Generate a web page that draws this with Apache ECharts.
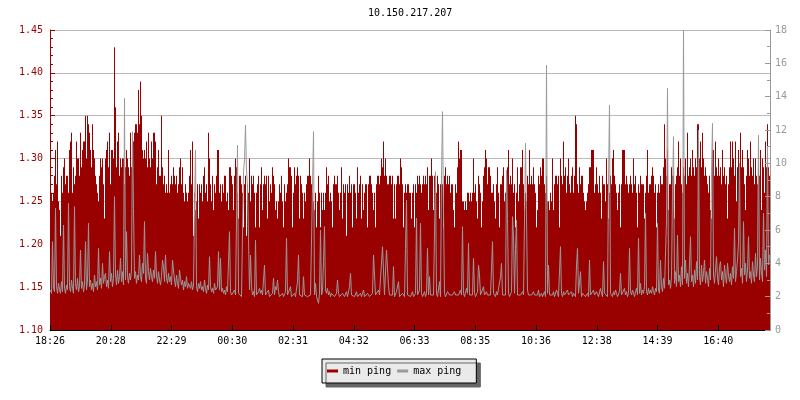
<!DOCTYPE html>
<html>
<head>
<meta charset="utf-8">
<script src="https://cdn.jsdelivr.net/npm/echarts@6/dist/echarts.min.js"></script>
<style>html,body{margin:0;padding:0;background:#fff}#c{width:800px;height:400px}</style>
</head>
<body>
<div id="c"></div>
<script>
// x tick labels (start 18:26, one labelled tick every 121.5 minutes)
const tickLabels = ['18:26','20:28','22:29','00:30','02:31','04:32','06:33','08:35','10:36','12:38','14:39','16:40'];
const labelStepMin = 121.5;
const minutesPerSample = 2;
const spanMin = 1440;

// min ping (ms, left axis) - one value per 2-minute sample
const minPing = [
1.25,1.26,1.25,1.26,1.28,1.31,1.27,1.32,1.25,1.24,1.21,1.28,1.26,1.29,1.30,1.27,1.28,1.28,1.26,1.31,
1.32,1.33,1.26,1.29,1.27,1.28,1.32,1.30,1.30,1.28,1.33,1.29,1.31,1.32,1.32,1.35,1.30,1.35,1.34,1.33,
1.31,1.29,1.34,1.31,1.30,1.28,1.27,1.26,1.25,1.28,1.30,1.29,1.30,1.27,1.23,1.30,1.31,1.32,1.29,1.33,
1.27,1.31,1.31,1.30,1.43,1.36,1.29,1.32,1.33,1.28,1.30,1.29,1.30,1.30,1.27,1.29,1.31,1.30,1.29,1.28,
1.33,1.29,1.31,1.32,1.33,1.34,1.34,1.33,1.38,1.34,1.39,1.35,1.31,1.30,1.31,1.30,1.32,1.29,1.33,1.30,
1.29,1.32,1.30,1.33,1.33,1.32,1.27,1.29,1.31,1.28,1.28,1.35,1.29,1.27,1.28,1.26,1.27,1.26,1.31,1.26,
1.27,1.28,1.27,1.29,1.28,1.27,1.28,1.26,1.27,1.29,1.30,1.27,1.29,1.26,1.25,1.27,1.26,1.25,1.26,1.28,
1.31,1.27,1.32,1.21,1.26,1.24,1.25,1.27,1.23,1.27,1.26,1.27,1.25,1.28,1.29,1.26,1.27,1.25,1.33,1.30,
1.27,1.25,1.28,1.24,1.27,1.26,1.28,1.31,1.31,1.26,1.27,1.25,1.27,1.26,1.28,1.28,1.25,1.26,1.24,1.29,
1.29,1.28,1.27,1.24,1.28,1.30,1.29,1.26,1.23,1.28,1.28,1.27,1.26,1.22,1.27,1.28,1.21,1.27,1.26,1.30,
1.25,1.28,1.27,1.28,1.26,1.22,1.26,1.27,1.28,1.22,1.27,1.29,1.24,1.27,1.28,1.27,1.28,1.23,1.28,1.25,
1.27,1.26,1.29,1.28,1.27,1.24,1.25,1.23,1.25,1.27,1.26,1.28,1.25,1.22,1.27,1.25,1.26,1.27,1.30,1.29,
1.29,1.28,1.22,1.26,1.29,1.27,1.28,1.29,1.28,1.23,1.28,1.27,1.26,1.23,1.26,1.25,1.27,1.28,1.28,1.30,
1.28,1.27,1.26,1.25,1.24,1.26,1.22,1.25,1.28,1.26,1.22,1.26,1.24,1.26,1.24,1.26,1.29,1.27,1.28,1.25,
1.26,1.25,1.22,1.27,1.28,1.27,1.27,1.28,1.26,1.24,1.26,1.29,1.23,1.27,1.26,1.27,1.21,1.27,1.26,1.28,
1.26,1.27,1.22,1.27,1.27,1.26,1.23,1.29,1.26,1.27,1.28,1.23,1.27,1.24,1.26,1.27,1.27,1.22,1.27,1.28,
1.28,1.27,1.26,1.24,1.26,1.22,1.27,1.28,1.28,1.27,1.28,1.30,1.29,1.32,1.28,1.30,1.28,1.27,1.27,1.28,
1.28,1.27,1.28,1.23,1.27,1.23,1.27,1.28,1.28,1.27,1.30,1.29,1.27,1.22,1.26,1.27,1.26,1.27,1.27,1.26,
1.26,1.23,1.26,1.27,1.22,1.27,1.26,1.28,1.27,1.28,1.27,1.26,1.27,1.28,1.27,1.28,1.27,1.29,1.24,1.28,
1.28,1.30,1.28,1.24,1.28,1.27,1.26,1.28,1.27,1.23,1.27,1.28,1.27,1.22,1.28,1.29,1.27,1.28,1.27,1.28,
1.26,1.27,1.27,1.24,1.22,1.27,1.26,1.29,1.32,1.30,1.31,1.31,1.25,1.25,1.24,1.25,1.24,1.26,1.26,1.25,
1.26,1.25,1.26,1.30,1.26,1.27,1.25,1.23,1.28,1.27,1.26,1.22,1.25,1.28,1.29,1.31,1.30,1.27,1.29,1.29,
1.28,1.26,1.26,1.27,1.25,1.23,1.27,1.29,1.26,1.22,1.27,1.27,1.28,1.29,1.25,1.26,1.27,1.29,1.31,1.27,
1.28,1.27,1.30,1.26,1.27,1.22,1.26,1.29,1.25,1.27,1.29,1.29,1.31,1.27,1.24,1.26,1.25,1.28,1.27,1.31,
1.27,1.28,1.27,1.29,1.27,1.26,1.22,1.24,1.28,1.27,1.29,1.28,1.30,1.30,1.27,1.26,1.28,1.25,1.25,1.24,
1.26,1.25,1.30,1.24,1.27,1.28,1.28,1.27,1.28,1.22,1.30,1.28,1.27,1.32,1.28,1.29,1.26,1.28,1.30,1.27,
1.26,1.28,1.29,1.26,1.28,1.35,1.34,1.27,1.26,1.29,1.27,1.28,1.28,1.26,1.25,1.24,1.25,1.26,1.27,1.29,
1.29,1.31,1.31,1.31,1.26,1.27,1.29,1.27,1.26,1.28,1.26,1.23,1.28,1.27,1.27,1.25,1.30,1.27,1.23,1.26,
1.28,1.27,1.30,1.31,1.28,1.27,1.26,1.24,1.26,1.27,1.22,1.27,1.31,1.31,1.31,1.27,1.28,1.27,1.26,1.27,
1.28,1.27,1.26,1.30,1.27,1.28,1.26,1.22,1.27,1.26,1.28,1.27,1.27,1.27,1.23,1.26,1.28,1.31,1.26,1.27,
1.27,1.28,1.29,1.28,1.26,1.27,1.22,1.26,1.27,1.26,1.28,1.27,1.27,1.29,1.34,1.30,1.28,1.31,1.24,1.27,
1.27,1.29,1.28,1.28,1.23,1.27,1.28,1.29,1.32,1.28,1.30,1.27,1.26,1.29,1.28,1.30,1.27,1.33,1.28,1.29,
1.30,1.28,1.31,1.29,1.28,1.30,1.29,1.34,1.34,1.30,1.32,1.29,1.33,1.30,1.28,1.29,1.28,1.27,1.26,1.28,
1.24,1.23,1.31,1.31,1.28,1.32,1.29,1.28,1.30,1.28,1.29,1.27,1.31,1.28,1.29,1.27,1.28,1.23,1.27,1.29,
1.32,1.29,1.32,1.30,1.28,1.32,1.25,1.29,1.31,1.28,1.33,1.29,1.31,1.29,1.27,1.24,1.28,1.31,1.30,1.28,
1.32,1.29,1.28,1.30,1.27,1.30,1.28,1.27,1.29,1.28,1.31,1.24,1.30,1.29,1.26,1.32,1.29,1.34,1.29,1.28
];

// max ping (ms, right axis) - one value per 2-minute sample
const maxPing = [
2.4,2.2,5.3,2.5,2.3,7.3,2.6,2.2,2.8,2.4,2.2,2.9,2.3,6.3,2.5,2.2,2.7,2.4,7.6,2.6,
2.3,3.0,2.5,2.2,7.4,2.8,2.4,3.1,2.3,2.6,4.8,2.5,2.9,2.3,2.7,5.3,2.4,3.0,6.4,2.6,
3.0,2.4,2.8,2.3,3.3,2.6,2.9,2.4,4.9,2.7,3.1,2.5,4.0,2.8,3.2,3.4,2.6,3.0,2.5,4.7,
2.9,3.4,2.6,3.1,8.0,3.3,2.7,3.6,2.8,3.2,4.3,2.9,3.5,2.7,13.9,3.0,5.9,3.2,2.8,3.4,
3.0,3.6,11.9,7.3,3.1,3.5,2.8,3.3,3.0,4.5,3.2,2.9,4.0,3.4,6.5,3.1,2.8,4.6,3.5,3.0,
3.7,3.2,2.9,3.6,3.1,4.7,3.3,2.8,3.5,3.0,2.7,3.2,4.2,3.8,2.9,4.5,3.1,2.8,3.4,2.9,
3.2,2.7,4.2,4.1,3.0,2.6,3.3,2.8,2.5,3.6,3.1,2.7,3.0,2.4,2.9,2.6,3.2,2.5,2.8,2.8,
2.5,2.9,2.4,2.7,7.2,10.8,2.6,2.3,2.8,2.5,2.9,2.4,2.6,2.3,3.0,2.5,2.2,2.7,2.4,4.4,
2.6,2.3,2.5,2.2,2.8,2.4,2.3,2.6,4.7,2.4,4.3,2.3,2.5,2.2,2.4,2.1,2.6,2.3,2.2,5.9,
2.3,2.1,2.2,2.0,2.4,2.1,2.0,11.1,2.2,2.1,2.3,2.0,2.1,9.5,10.2,12.3,9.6,8.6,5.5,2.4,
4.5,2.6,2.1,2.3,2.0,5.4,2.1,2.0,2.3,2.5,2.2,2.4,2.1,2.0,3.9,2.1,2.0,2.2,2.4,2.0,
2.1,2.0,2.2,3.1,2.1,2.6,2.4,3.0,2.3,2.0,2.1,2.0,2.2,2.0,2.1,2.3,5.5,2.1,2.0,2.1,
2.6,2.0,2.1,2.0,2.2,2.0,2.1,2.9,4.5,2.1,2.0,2.2,2.0,3.2,2.1,2.0,2.2,2.0,2.1,2.0,
2.1,2.0,2.2,11.9,2.1,2.8,2.0,2.1,1.6,2.2,6.0,2.1,2.3,4.1,6.2,2.4,2.2,2.5,2.1,2.3,
2.0,2.2,2.1,2.3,2.0,2.1,2.2,3.0,2.2,2.0,2.1,2.0,2.2,2.1,2.0,2.1,2.3,2.0,2.1,2.6,
3.4,2.1,2.0,2.2,2.0,2.1,2.3,2.0,2.1,2.0,2.2,2.0,2.1,2.4,2.0,2.1,2.0,2.2,2.1,2.0,
2.1,2.0,2.2,4.5,4.4,2.1,2.0,2.2,2.4,2.1,2.0,2.2,5.0,4.9,2.1,2.0,4.8,4.7,2.6,2.1,
2.0,2.2,2.1,3.8,2.0,2.1,2.3,2.2,2.9,2.0,2.1,2.0,2.2,2.1,2.0,4.9,7.8,2.1,2.0,2.2,
2.0,2.1,2.3,2.0,2.1,2.2,6.7,2.1,2.0,2.4,6.4,2.2,2.0,2.1,2.3,2.0,2.2,4.9,2.1,3.2,
2.1,2.0,2.2,2.1,2.0,9.5,2.2,2.0,2.1,2.9,2.0,9.2,13.1,7.0,2.2,2.0,2.1,2.3,2.4,2.1,
2.0,2.2,2.1,2.0,2.3,2.1,2.0,2.2,2.1,2.0,2.4,2.1,6.2,2.2,2.0,2.1,2.5,2.2,5.2,2.1,
2.0,2.2,2.1,4.3,2.2,2.0,2.1,2.3,3.9,3.3,2.1,2.0,2.2,2.6,2.1,2.0,2.3,2.1,2.0,2.2,
2.1,2.0,5.3,2.2,2.1,2.0,2.3,2.1,2.0,2.2,3.2,4.0,2.1,2.0,2.2,2.1,9.6,6.7,2.2,2.0,
2.1,2.3,6.8,5.6,2.2,4.9,6.6,2.1,2.0,2.2,2.1,2.0,2.3,2.1,2.0,11.2,6.6,2.4,2.1,2.0,
2.2,2.1,2.0,2.3,2.1,2.0,2.2,2.1,2.4,2.0,2.1,2.2,2.0,2.1,2.3,2.0,15.9,2.2,3.9,2.1,
2.0,2.2,2.1,2.3,2.0,2.1,2.4,2.2,2.0,2.1,5.0,2.2,2.0,2.3,2.1,2.0,2.2,2.4,2.1,2.0,
2.1,2.3,2.0,2.2,2.1,2.0,3.9,4.9,2.2,2.1,3.5,2.0,2.2,2.1,2.3,2.0,2.1,2.2,2.0,4.2,
2.1,2.0,2.2,2.4,2.1,2.0,2.3,2.2,2.0,2.1,2.5,2.2,2.0,4.1,2.2,2.1,2.3,2.0,9.0,13.5,
2.2,2.1,2.0,2.3,2.1,2.4,2.2,2.0,2.1,2.3,3.4,2.1,2.0,2.2,2.5,2.1,2.3,2.0,2.2,4.9,
2.3,2.1,2.4,2.2,2.0,2.3,2.5,2.1,5.5,2.2,2.8,2.1,2.4,2.2,2.6,7.0,2.3,2.1,2.5,2.2,
2.4,2.2,2.6,2.3,2.1,2.5,2.3,6.4,2.4,2.2,4.2,2.6,2.3,3.1,2.5,2.4,6.6,14.5,2.7,3.0,
2.5,3.2,8.2,11.6,2.8,3.5,2.6,5.7,2.9,3.3,2.6,3.8,2.7,18.0,3.1,4.2,2.8,3.4,2.6,3.9,
5.6,2.9,3.3,2.6,3.6,2.8,4.1,3.0,12.0,3.2,2.7,3.9,2.9,3.4,4.2,2.8,3.5,3.1,2.6,3.7,
3.0,9.5,12.4,3.3,2.8,3.6,4.4,3.1,2.7,3.8,4.1,3.0,3.5,2.6,3.9,3.2,2.8,4.0,3.3,2.9,
3.4,2.7,3.8,3.1,6.1,2.9,3.5,4.2,5.3,10.0,3.2,3.7,2.8,6.5,3.3,4.0,2.9,3.6,5.6,3.1,
3.5,2.8,4.1,3.3,2.9,4.6,3.2,3.8,11.7,3.0,4.3,3.5,2.9,7.0,3.6,4.8,3.2,11.0,3.9,4.5
];

const FONT = 'DejaVu Sans Mono';
const RED = '#990000';
const GRAY = '#999999';

// one category per 2-minute sample (hidden axis used to lay out the 1px columns)
const sampleIndex = minPing.map((_, i) => String(i));
const maxData = maxPing.map((v, i) => [i * minutesPerSample + minutesPerSample / 2, v]);
const tickValues = tickLabels.map((_, k) => k * labelStepMin);

const chart = echarts.init(document.getElementById('c'), null, {renderer: 'canvas'});
chart.setOption({
  animation: false,
  backgroundColor: '#ffffff',
  title: {
    text: '10.150.217.207', left: 368, top: 8, padding: 0,
    textStyle: {fontFamily: FONT, fontSize: 10, fontWeight: 'normal', color: '#000'}
  },
  grid: {left: 50, right: 30, top: 30, bottom: 70},
  legend: {
    left: 322, top: 359, padding: [7, 15, 7, 5],
    itemWidth: 11, itemHeight: 3, itemGap: 6, icon: 'rect',
    backgroundColor: '#eaeaea', borderColor: '#000', borderWidth: 1,
    shadowColor: '#666666', shadowOffsetX: 4, shadowOffsetY: 4, shadowBlur: 0,
    selectedMode: false,
    textStyle: {fontFamily: FONT, fontSize: 10, color: '#000'},
    data: ['min ping', 'max ping']
  },
  xAxis: [{
    type: 'value', min: 0, max: spanMin, z: 3,
    axisLine: {show: true, lineStyle: {color: '#000', width: 1}},
    axisTick: {show: true, inside: true, length: 5, lineStyle: {color: '#000'}, customValues: tickValues},
    axisLabel: {
      customValues: tickValues, color: '#000', fontFamily: FONT, fontSize: 10, margin: 6,
      formatter: v => tickLabels[Math.round(v / labelStepMin)] || ''
    },
    splitLine: {show: false}
  }, {
    type: 'category', data: sampleIndex, show: false, boundaryGap: true
  }],
  yAxis: [{
    type: 'value', position: 'left', min: 1.10, max: 1.45, interval: 0.05, startValue: 1.10,
    axisLine: {show: true, lineStyle: {color: RED}},
    axisTick: {show: true, inside: true, length: 5, lineStyle: {color: RED}},
    minorTick: {show: true, splitNumber: 5, length: 3, lineStyle: {color: RED}},
    splitLine: {show: true, lineStyle: {color: '#bbbbbb', width: 1}},
    axisLabel: {color: RED, fontFamily: FONT, fontSize: 10, margin: 7, formatter: v => v.toFixed(2)}
  }, {
    type: 'value', position: 'right', min: 0, max: 18, interval: 2, z: 3,
    axisLine: {show: true, lineStyle: {color: GRAY}},
    axisTick: {show: true, inside: true, length: 5, lineStyle: {color: GRAY}},
    minorTick: {show: true, splitNumber: 2, length: 3, lineStyle: {color: GRAY}},
    splitLine: {show: false},
    axisLabel: {color: GRAY, fontFamily: FONT, fontSize: 10, margin: 5}
  }],
  series: [{
    name: 'min ping', type: 'bar', xAxisIndex: 1, yAxisIndex: 0,
    barCategoryGap: '0%', barGap: '0%', clip: true,
    color: RED, itemStyle: {color: RED, borderWidth: 0},
    data: minPing, z: 2, silent: true
  }, {
    name: 'max ping', type: 'line', xAxisIndex: 0, yAxisIndex: 1, symbol: 'none',
    color: GRAY, itemStyle: {color: GRAY},
    lineStyle: {width: 1, color: GRAY},
    data: maxData, z: 3, silent: true
  }]
});
</script>
</body>
</html>
